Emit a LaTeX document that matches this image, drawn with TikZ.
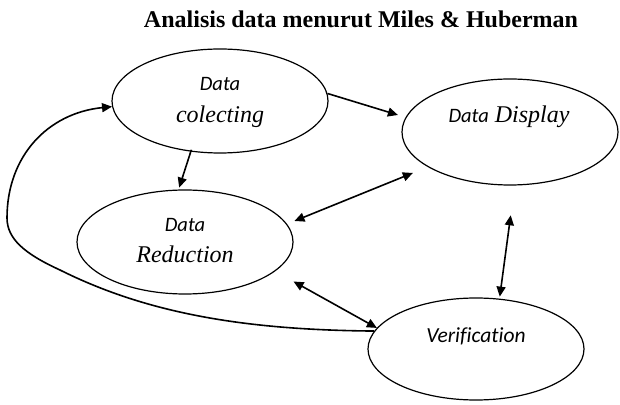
\documentclass[tikz,border=0pt]{standalone}
\usepackage{fontspec}
\setmainfont{Liberation Serif}
\newfontfamily\carl[Ligatures=NoCommon]{Carlito}
\usetikzlibrary{arrows.meta,shapes.geometric}
\begin{document}
\begin{tikzpicture}[x=1pt,y=1pt,
  oval/.style={draw,ellipse,line width=1.2pt,minimum width=216pt,minimum height=104pt,inner sep=0pt},
  sanslab/.style={anchor=base,font=\carl\itshape\fontsize{20.5}{24}\selectfont,inner sep=0pt},
  serlab/.style={anchor=base,font=\itshape\fontsize{24}{28}\selectfont,inner sep=0pt},
  arr/.style={line width=1.6pt,-{Triangle[length=10pt,width=9pt]}},
  darr/.style={line width=1.6pt,{Triangle[length=10pt,width=9pt]}-{Triangle[length=10pt,width=9pt]}}]
\useasboundingbox (0,0) rectangle (620,404);
\node[anchor=base,font=\bfseries\fontsize{24}{28}\selectfont,inner sep=0pt] (title) at (361,376) {Analisis data menurut Miles \& Huberman};
\node[oval] (col) at (220,303) {};
\node[oval,minimum height=106pt] (disp) at (510,272) {};
\node[oval] (red) at (185,162) {};
\node[oval,minimum height=102pt] (ver) at (476,55) {};
\node[sanslab] (colA) at (220,313) {Data};
\node[serlab] (colB) at (220,281) {colecting};
\node[anchor=base,inner sep=0pt] (dispA) at (509,281) {{\carl\itshape\fontsize{20.5}{24}\selectfont Data}\hspace{6pt}{\itshape\fontsize{24}{28}\selectfont Display}};
\node[sanslab] (redA) at (185,172) {Data};
\node[serlab] (redB) at (185,141) {Reduction};
\node[sanslab,font=\carl\itshape\fontsize{21.5}{24}\selectfont] (verA) at (476,62) {Verification};
\draw[arr,shorten >=8pt] (col.4) -- (disp.172);
\draw[arr,shorten >=2pt,shorten <=-2pt] (col.240) -- (red.97);
\draw[darr,shorten <=8pt,shorten >=16pt] (red.10) -- (disp.203);
\draw[darr,shorten <=21pt] (red.-18) -- (ver.168);
\draw[darr,shorten <=30pt,shorten >=2pt] (disp.-85) -- (ver.65);
\coordinate (k1) at (60,134);
\coordinate (k2) at (7,186);
\draw[arr] (ver.170) .. controls (250,74) and (150,89) .. (k1)
  .. controls (25,150) and (7,165) .. (k2)
  .. controls (7,248) and (48,291) .. (col.183);
\end{tikzpicture}
\end{document}
